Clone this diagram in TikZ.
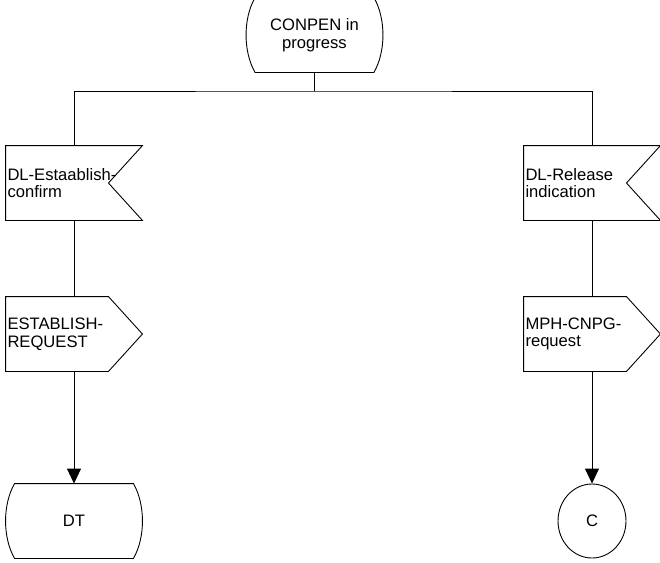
\documentclass[tikz,border=0pt]{standalone}
\usepackage{fontspec}
\setmainfont{Liberation Sans}
\usetikzlibrary{calc,arrows.meta,shapes.geometric}

% SDL outlines drawn around plain rectangular nodes
\newcommand\sdlstate[1]{%
  \draw ($(#1.north west)+(9,0)$) -- ($(#1.north east)+(-9,0)$)
    .. controls ($(#1.north east)+(3,21)$) and ($(#1.south east)+(3,-21)$) .. ($(#1.south east)+(-9,0)$)
    -- ($(#1.south west)+(9,0)$)
    .. controls ($(#1.south west)+(-3,-21)$) and ($(#1.north west)+(-3,21)$) .. cycle;}
\newcommand\sdlinput[1]{%
  \draw (#1.north west) -- (#1.north east) -- ($(#1.east)+(-34,0)$)
    -- (#1.south east) -- (#1.south west) -- cycle;}
\newcommand\sdloutput[1]{%
  \draw (#1.north west) -- ($(#1.north east)+(-34,0)$) -- (#1.east)
    -- ($(#1.south east)+(-34,0)$) -- (#1.south west) -- cycle;}

\tikzset{
  every picture/.style={line width=0.9pt},
  statebox/.style={minimum width=136pt, minimum height=74pt, inner sep=0pt, align=center},
  signalbox/.style={minimum width=136pt, minimum height=74pt, inner xsep=1.5pt, inner ysep=0pt,
                    text width=133pt, align=left},
  flow/.style={-{Triangle[length=15pt,width=14pt]}}
}

\begin{document}
\begin{tikzpicture}[x=1pt,y=-1pt,font=\fontsize{16.6}{17.8}\selectfont]
\useasboundingbox (0,0) rectangle (660,562);

% starting state
\node[statebox] (conpen) at (314.5,35) {CONPEN in\\progress};
\sdlstate{conpen}

% received signals
\node[signalbox] (estconf) at (74,183) {DL-Estaablish-\\confirm};
\sdlinput{estconf}
\node[signalbox] (relind) at (592,183) {DL-Release\\indication};
\sdlinput{relind}

% sent signals
\node[signalbox] (estreq) at (74,334) {ESTABLISH-\\REQUEST};
\sdloutput{estreq}
\node[signalbox] (cnpgreq) at (592,334) {MPH-CNPG-\\request};
\sdloutput{cnpgreq}

% next state and connector
\node[statebox] (dt) at (74,521) {DT};
\sdlstate{dt}
\node[ellipse, draw, minimum width=68pt, minimum height=74pt, inner sep=0pt] (c) at (592,521) {C};

% branching below the state
\coordinate (fork) at (314.5,91);
\draw (conpen.south) -- (fork);
\draw (estconf.north) |- (fork) -| (relind.north);

% transitions
\draw (estconf.south) -- (estreq.north);
\draw (relind.south) -- (cnpgreq.north);
\draw[flow] (estreq.south) -- (dt.north);
\draw[flow] (cnpgreq.south) -- (c.north);
\end{tikzpicture}
\end{document}
